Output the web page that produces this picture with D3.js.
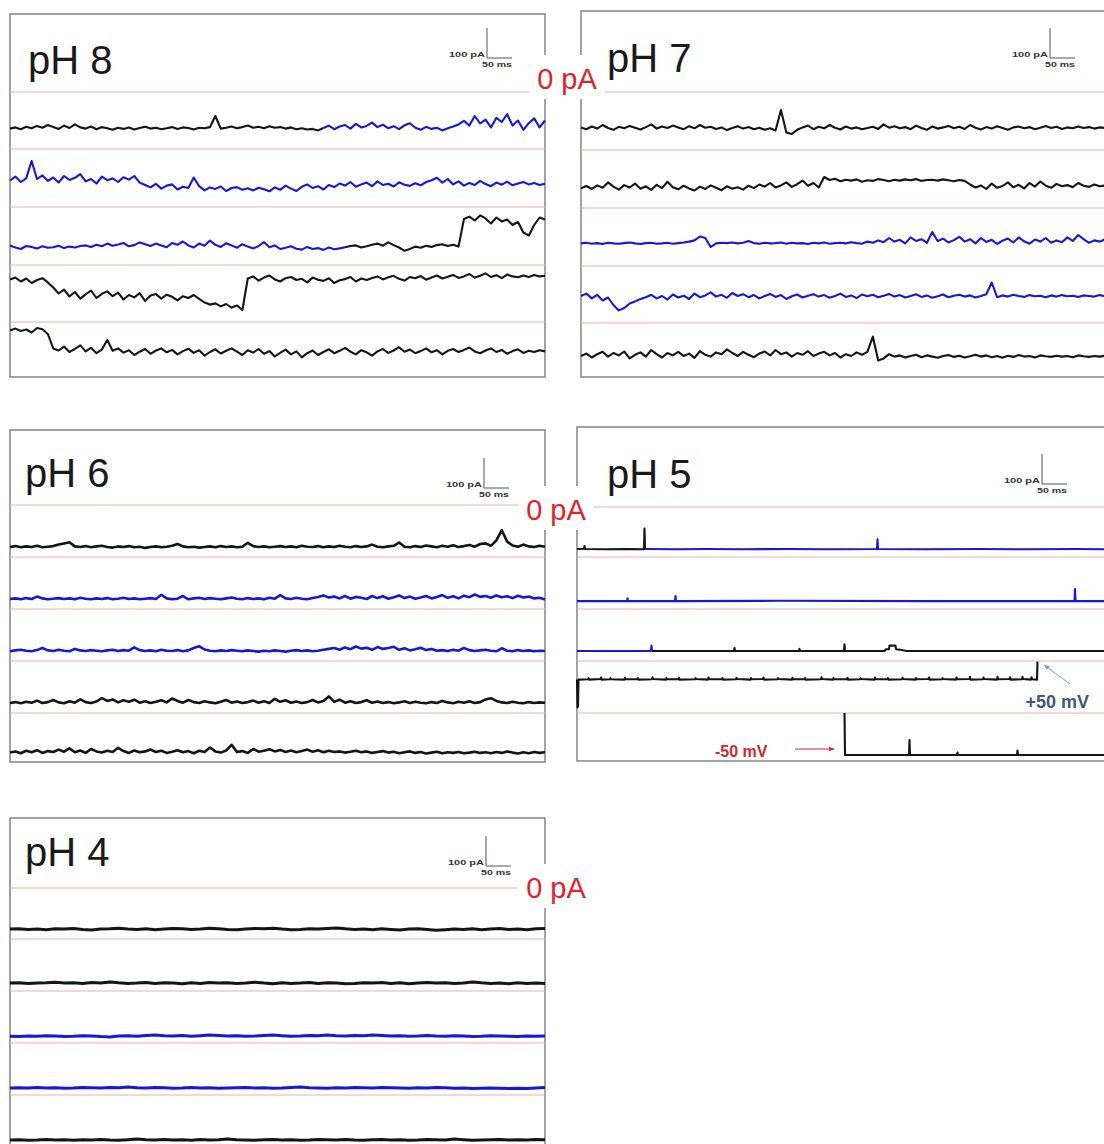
<!DOCTYPE html>
<html><head><meta charset="utf-8">
<script src="https://cdn.jsdelivr.net/npm/d3@7/dist/d3.min.js"></script>
<style>body{margin:0;background:#fff;} svg{display:block;font-family:"Liberation Sans",Arial,sans-serif;}</style>
</head><body>
<svg id="chart" width="1104" height="1144"></svg>
<script>
// ---------------- DATA (current in pA, time in ms) ----------------
const panelTitles = ["pH 8", "pH 7", "pH 6", "pH 5", "pH 4"];
const zeroLabel = "0 pA";
const scaleBarLabels = ["100 pA", "50 ms"];
const scaleBarValues = [100, 50];
const sweepDuration = 1070;

// pH 8 sweeps (evenly sampled)
const ph8_1 = [-122,-118,-124,-116,-121,-113,-119,-110,-117,-123,-112,-120,-108,-118,-122,-115,-124,-117,-121,-126,-119,-123,-118,-125,-120,-116,-122,-119,-124,-121,-117,-123,-118,-120,-125,-119,-121,-117,-80,-122,-119,-115,-121,-117,-112,-119,-116,-121,-114,-119,-117,-122,-118,-124,-121,-125,-123,-128,-120,-112,-124,-115,-110,-122,-106,-118,-113,-102,-117,-109,-121,-114,-124,-111,-104,-119,-126,-116,-123,-119,-128,-121,-115,-108,-96,-112,-80,-105,-92,-118,-86,-100,-74,-112,-95,-126,-104,-88,-118,-95];
const ph8_2 = [-105,-92,-110,-98,-40,-100,-88,-106,-95,-112,-90,-103,-96,-84,-108,-100,-115,-92,-104,-98,-110,-94,-102,-90,-112,-120,-128,-116,-132,-122,-118,-135,-126,-130,-95,-124,-138,-128,-133,-125,-140,-130,-127,-136,-131,-138,-129,-134,-141,-128,-136,-122,-132,-140,-126,-118,-130,-124,-135,-120,-127,-115,-122,-110,-126,-118,-112,-124,-108,-120,-116,-125,-111,-119,-123,-114,-121,-110,-104,-96,-112,-100,-118,-108,-122,-113,-120,-106,-117,-124,-112,-119,-109,-121,-115,-110,-118,-113,-120,-116];
const ph8_3 = [-128,-135,-140,-130,-133,-138,-131,-136,-134,-129,-137,-132,-135,-130,-128,-133,-126,-131,-122,-129,-125,-120,-131,-127,-118,-124,-130,-122,-128,-134,-120,-126,-115,-128,-135,-122,-129,-112,-126,-133,-121,-128,-136,-124,-132,-138,-130,-117,-134,-128,-140,-136,-131,-139,-142,-133,-140,-137,-143,-135,-141,-138,-134,-130,-128,-135,-131,-126,-122,-129,-118,-127,-135,-146,-140,-132,-136,-129,-133,-127,-124,-130,-126,-132,-40,-32,-45,-28,-38,-55,-35,-48,-42,-60,-50,-85,-95,-60,-35,-42];
const ph8_4 = [-48,-42,-55,-45,-60,-50,-44,-58,-75,-95,-82,-105,-90,-112,-98,-85,-110,-96,-88,-104,-92,-115,-100,-108,-94,-120,-102,-97,-112,-99,-106,-118,-104,-110,-100,-113,-125,-132,-128,-138,-130,-142,-135,-150,-45,-38,-52,-42,-35,-48,-55,-44,-40,-50,-46,-58,-42,-49,-53,-44,-60,-51,-47,-40,-55,-45,-50,-43,-38,-48,-41,-36,-46,-52,-40,-44,-37,-49,-42,-35,-45,-39,-33,-43,-38,-30,-42,-36,-28,-40,-34,-44,-32,-38,-41,-35,-40,-33,-38,-36];
const ph8_5 = [-28,-22,-30,-25,-35,-20,-24,-40,-88,-95,-82,-100,-90,-78,-98,-86,-104,-92,-60,-96,-88,-102,-94,-110,-99,-90,-106,-95,-88,-101,-93,-108,-97,-89,-103,-94,-112,-100,-91,-105,-96,-88,-99,-110,-94,-102,-90,-106,-97,-115,-103,-92,-108,-98,-118,-104,-95,-110,-100,-91,-104,-96,-86,-99,-108,-94,-101,-112,-98,-90,-103,-95,-84,-99,-92,-104,-97,-88,-101,-94,-108,-96,-90,-100,-93,-85,-98,-104,-95,-88,-100,-93,-106,-97,-91,-103,-96,-100,-94,-98];
const ph8Colors = [[["k",0],["b",620]], [["b",0]], [["b",0],["k",670]], [["k",0]], [["k",0]]];

// pH 7 sweeps
const ph7_1 = [-118,-124,-115,-122,-110,-120,-126,-116,-121,-113,-119,-125,-117,-108,-122,-115,-120,-112,-118,-124,-114,-121,-110,-119,-116,-123,-118,-127,-120,-114,-122,-117,-124,-119,-126,-121,-128,-60,-135,-140,-126,-118,-112,-124,-116,-121,-110,-119,-125,-115,-122,-118,-124,-120,-116,-123,-108,-119,-114,-121,-117,-124,-112,-120,-126,-115,-122,-118,-113,-121,-116,-123,-110,-119,-125,-117,-122,-114,-120,-126,-118,-115,-121,-117,-124,-119,-113,-120,-116,-123,-118,-121,-115,-120,-117,-122,-118,-120,-116,-121];
const ph7_2 = [-128,-120,-130,-118,-126,-108,-122,-132,-117,-125,-112,-129,-121,-133,-116,-127,-106,-124,-131,-119,-128,-135,-122,-130,-118,-126,-134,-121,-129,-124,-132,-119,-127,-115,-122,-110,-125,-118,-108,-123,-114,-102,-119,-110,-125,-90,-100,-96,-104,-99,-102,-98,-106,-101,-103,-97,-100,-104,-99,-102,-98,-101,-97,-103,-100,-99,-102,-98,-101,-104,-100,-103,-115,-125,-118,-130,-112,-126,-120,-108,-124,-116,-128,-110,-122,-105,-119,-126,-113,-121,-117,-124,-110,-119,-123,-115,-121,-118,-124,-120];
const ph7_3 = [-118,-116,-119,-117,-120,-116,-118,-119,-117,-115,-118,-120,-117,-116,-119,-118,-116,-119,-117,-115,-112,-108,-95,-100,-130,-118,-116,-117,-115,-118,-116,-110,-117,-119,-116,-118,-117,-115,-119,-116,-118,-117,-120,-116,-118,-115,-119,-117,-116,-118,-114,-117,-119,-112,-116,-108,-114,-100,-112,-106,-118,-98,-110,-104,-116,-80,-110,-102,-115,-107,-96,-112,-104,-118,-100,-113,-106,-120,-109,-102,-115,-98,-111,-119,-105,-112,-100,-116,-108,-114,-98,-110,-90,-104,-116,-108,-112,-104,-118,-110];
const ph7_4 = [-100,-92,-108,-96,-115,-105,-130,-148,-140,-125,-118,-110,-104,-96,-108,-100,-112,-95,-105,-99,-110,-92,-104,-98,-88,-102,-96,-106,-90,-100,-94,-104,-97,-108,-100,-93,-103,-97,-110,-101,-95,-105,-99,-94,-102,-97,-106,-100,-92,-103,-98,-107,-95,-101,-96,-104,-99,-93,-102,-97,-105,-100,-94,-103,-98,-106,-101,-95,-104,-99,-96,-102,-98,-105,-100,-94,-55,-104,-98,-102,-96,-100,-103,-97,-101,-99,-104,-98,-102,-97,-101,-99,-103,-98,-100,-102,-97,-101,-99,-100];
const ph7_5 = [-110,-102,-115,-104,-96,-112,-100,-108,-95,-118,-106,-98,-112,-90,-104,-115,-100,-108,-96,-110,-102,-116,-94,-106,-112,-98,-104,-88,-100,-110,-96,-106,-114,-102,-95,-108,-90,-104,-98,-112,-100,-106,-94,-110,-102,-96,-108,-100,-115,-104,-110,-98,-106,-96,-45,-125,-118,-104,-112,-108,-115,-110,-106,-114,-108,-112,-116,-110,-107,-113,-109,-115,-111,-106,-112,-108,-114,-110,-116,-109,-113,-107,-112,-110,-115,-108,-111,-113,-109,-112,-110,-114,-108,-111,-113,-110,-112,-109,-111,-110];
const ph7Colors = [[["k",0]], [["k",0]], [["b",0]], [["b",0]], [["k",0]]];

// pH 6 sweeps
const ph6_1 = [-140,-137,-141,-138,-140,-136,-141,-139,-137,-132,-128,-124,-138,-140,-137,-141,-138,-136,-140,-142,-138,-140,-137,-141,-139,-143,-140,-138,-141,-139,-136,-130,-138,-141,-139,-142,-140,-138,-141,-137,-140,-138,-141,-139,-126,-137,-140,-138,-141,-139,-137,-140,-138,-141,-136,-139,-140,-137,-141,-138,-140,-136,-139,-141,-137,-140,-138,-132,-139,-141,-138,-136,-125,-139,-141,-137,-140,-135,-138,-141,-136,-139,-134,-140,-137,-133,-139,-130,-128,-136,-118,-84,-122,-135,-139,-132,-138,-140,-136,-139];
const ph6_2 = [-140,-138,-141,-137,-140,-132,-138,-141,-139,-137,-140,-138,-141,-136,-139,-141,-138,-140,-137,-141,-139,-136,-140,-138,-141,-139,-137,-140,-126,-138,-141,-139,-130,-141,-138,-136,-140,-137,-139,-141,-138,-135,-139,-141,-137,-140,-138,-141,-136,-139,-127,-138,-140,-136,-139,-141,-137,-133,-128,-135,-132,-138,-130,-139,-133,-136,-140,-130,-137,-131,-139,-134,-128,-137,-132,-139,-135,-130,-138,-133,-127,-136,-131,-138,-129,-134,-125,-133,-130,-136,-128,-134,-131,-137,-129,-135,-132,-138,-136,-142];
const ph6_3 = [-141,-138,-136,-139,-141,-137,-130,-138,-140,-136,-139,-141,-133,-138,-140,-137,-139,-141,-138,-136,-140,-137,-139,-128,-137,-140,-138,-141,-136,-139,-140,-137,-141,-138,-130,-124,-135,-139,-141,-138,-140,-137,-139,-141,-138,-140,-142,-139,-141,-138,-140,-142,-139,-137,-140,-138,-141,-139,-136,-133,-130,-136,-128,-134,-125,-132,-129,-136,-127,-133,-130,-126,-136,-131,-138,-134,-129,-137,-133,-139,-137,-140,-136,-139,-130,-137,-140,-138,-136,-139,-141,-131,-139,-141,-137,-140,-138,-141,-139,-140];
const ph6_4 = [-140,-137,-141,-136,-139,-132,-140,-137,-130,-138,-141,-134,-139,-128,-137,-140,-135,-124,-133,-128,-138,-131,-136,-129,-139,-134,-140,-136,-131,-138,-125,-133,-139,-130,-137,-140,-134,-138,-141,-136,-130,-139,-135,-140,-137,-132,-139,-134,-140,-126,-136,-131,-139,-135,-140,-137,-130,-138,-133,-118,-136,-129,-139,-134,-140,-137,-131,-139,-135,-140,-137,-141,-138,-134,-140,-136,-139,-141,-137,-140,-133,-138,-141,-136,-139,-134,-140,-137,-128,-124,-133,-138,-140,-136,-139,-141,-137,-140,-138,-139];
const ph6_5 = [-132,-128,-134,-126,-131,-124,-133,-127,-130,-122,-129,-118,-131,-125,-133,-120,-128,-132,-126,-130,-116,-127,-133,-125,-131,-128,-122,-130,-126,-133,-129,-124,-131,-127,-134,-126,-130,-115,-128,-132,-125,-106,-130,-127,-133,-120,-129,-126,-121,-128,-123,-130,-125,-131,-127,-122,-129,-124,-131,-126,-130,-128,-132,-129,-126,-131,-128,-133,-130,-127,-132,-129,-134,-131,-128,-133,-130,-135,-132,-129,-134,-131,-133,-130,-134,-132,-129,-133,-131,-134,-130,-133,-128,-132,-135,-131,-134,-130,-133,-131];
const ph6Colors = [[["k",0]], [["b",0]], [["b",0]], [["k",0]], [["k",0]]];

// pH 5 sweeps ([ms, pA] samples)
const ph5_1 = [[0,-140],[14,-139],[15,-130],[16,-140],[60,-141],[100,-140],[134,-141],[135,-72],[136,-140],[200,-141],[260,-140],[330,-141],[420,-140],[500,-141],[600,-140],[601,-108],[602,-140],[700,-141],[800,-140],[900,-141],[1000,-140],[1070,-141]];
const ph5_2 = [[0,-147],[100,-147],[101,-138],[102,-147],[196,-147],[197,-130],[198,-147],[400,-146],[700,-147],[995,-147],[996,-107],[997,-147],[1070,-147]];
const ph5_3 = [[0,-140],[148,-140],[149,-122],[150,-140],[314,-140],[315,-130],[316,-140],[444,-140],[445,-133],[446,-140],[534,-140],[535,-118],[536,-140],[615,-140],[618,-134],[624,-134],[625,-122],[637,-122],[638,-134],[646,-136],[660,-140],[800,-140],[1070,-140]];
const ph5_4 = [[0,-62],[1,-155],[2,-150],[3,-62],[22,-61],[23,-57],[24,-62],[47,-60],[48,-55],[49,-62],[66,-61],[67,-57],[68,-61],[95,-62],[96,-56],[97,-61],[121,-60],[122,-57],[123,-62],[150,-61],[151,-54],[152,-60],[178,-62],[179,-57],[180,-61],[203,-60],[204,-56],[205,-62],[236,-61],[237,-57],[238,-60],[262,-62],[263,-55],[264,-61],[290,-60],[291,-57],[292,-62],[318,-61],[319,-56],[320,-60],[347,-62],[348,-57],[349,-61],[372,-60],[373,-55],[374,-62],[401,-61],[402,-57],[403,-60],[430,-62],[431,-56],[432,-61],[455,-60],[456,-57],[457,-62],[488,-61],[489,-54],[490,-60],[512,-62],[513,-57],[514,-61],[540,-60],[541,-56],[542,-62],[566,-61],[567,-57],[568,-60],[595,-62],[596,-55],[597,-61],[621,-60],[622,-57],[623,-62],[650,-61],[651,-56],[652,-60],[677,-62],[678,-57],[679,-61],[703,-60],[704,-55],[705,-62],[730,-61],[731,-57],[732,-60],[758,-62],[759,-55],[760,-61],[785,-60],[786,-53],[787,-62],[812,-61],[813,-55],[814,-60],[840,-62],[841,-53],[842,-61],[865,-60],[866,-54],[867,-62],[890,-61],[891,-53],[892,-60],[908,-62],[909,-54],[910,-61],[920,-62],[921,-2]];
const ph5_5 = [[535,0],[536,-140],[600,-140],[664,-140],[665,-90],[666,-140],[760,-140],[761,-132],[762,-140],[880,-140],[881,-125],[882,-140],[1000,-140],[1070,-140]];
const ph5Colors = [[["k",0],["b",136]], [["b",0]], [["b",0],["k",150]], [["k",0]], [["k",0]]];
const ph5Notes = ["+50 mV", "-50 mV"];

// pH 4 sweeps
const ph4_1 = [-137,-136,-138,-137,-139,-136,-137,-135,-138,-140,-137,-136,-134,-137,-138,-136,-139,-137,-135,-136,-138,-137,-134,-136,-138,-139,-137,-135,-136,-134,-137,-139,-138,-136,-137,-135,-133,-136,-138,-137,-139,-136,-138,-140,-137,-136,-138,-141,-139,-137,-138,-136,-139,-137,-135,-138,-137,-139,-136,-135];
const ph4_2 = [-147,-146,-148,-147,-146,-144,-147,-146,-148,-145,-147,-143,-146,-148,-147,-145,-148,-146,-147,-149,-146,-148,-145,-147,-146,-148,-147,-144,-147,-149,-146,-148,-147,-145,-148,-146,-147,-149,-148,-146,-147,-145,-148,-146,-149,-147,-145,-147,-146,-148,-147,-143,-146,-148,-147,-149,-146,-148,-147,-148];
const ph4_3 = [-151,-152,-150,-151,-149,-150,-152,-151,-149,-150,-152,-153,-150,-149,-151,-148,-147,-149,-150,-148,-151,-149,-147,-148,-150,-149,-151,-150,-148,-147,-149,-151,-150,-148,-149,-147,-149,-150,-148,-149,-147,-148,-150,-149,-151,-150,-148,-150,-151,-149,-150,-152,-151,-149,-150,-151,-152,-150,-151,-150];
const ph4_4 = [-150,-149,-150,-148,-150,-149,-151,-150,-148,-149,-150,-148,-149,-147,-149,-150,-148,-149,-151,-150,-148,-150,-149,-151,-150,-149,-148,-150,-149,-151,-150,-148,-147,-149,-150,-151,-149,-150,-148,-149,-150,-148,-149,-150,-151,-149,-150,-148,-149,-151,-150,-152,-151,-150,-151,-152,-151,-152,-150,-148];
const ph4_5 = [-150,-149,-151,-150,-148,-150,-149,-151,-149,-150,-148,-150,-151,-149,-147,-149,-150,-148,-150,-149,-151,-148,-150,-149,-147,-149,-150,-151,-149,-148,-150,-149,-151,-150,-148,-149,-150,-148,-150,-151,-149,-148,-150,-149,-151,-150,-148,-149,-150,-147,-149,-151,-150,-149,-148,-150,-149,-150,-148,-149];
const ph4Colors = [[["k",0]], [["k",0]], [["b",0]], [["b",0]], [["k",0]]];

// ---------------- LAYOUT ----------------
const colorMap = {k: "#141414", b: "#1717d6"};
const panels = [
  {title: panelTitles[0], x0: 10, y0: 14, x1: 545, y1: 377, zeros: [92,149,207,265,322], tx: 28, ty: 74, bx: 487, by: 58, sweeps: [ph8_1,ph8_2,ph8_3,ph8_4,ph8_5], colors: ph8Colors, sw: 2.1},
  {title: panelTitles[1], x0: 581, y0: 11, x1: 1116, y1: 377, zeros: [92,150,208,266,323], tx: 607, ty: 72, bx: 1050, by: 58, sweeps: [ph7_1,ph7_2,ph7_3,ph7_4,ph7_5], colors: ph7Colors, sw: 2.1},
  {title: panelTitles[2], x0: 10, y0: 430, x1: 545, y1: 762, zeros: [505,557,609,661,713], tx: 25, ty: 487, bx: 484, by: 488, sweeps: [ph6_1,ph6_2,ph6_3,ph6_4,ph6_5], colors: ph6Colors, sw: 2.6},
  {title: panelTitles[3], x0: 577, y0: 427, x1: 1112, y1: 761, zeros: [507,557,609,661,713], tx: 607, ty: 488, bx: 1042, by: 484, sweeps: [ph5_1,ph5_2,ph5_3,ph5_4,ph5_5], colors: ph5Colors, sw: 2.1},
  {title: panelTitles[4], x0: 10, y0: 818, x1: 545, y1: 1152, zeros: [888,939,991,1043,1095], tx: 25, ty: 866, bx: 486, by: 866, sweeps: [ph4_1,ph4_2,ph4_3,ph4_4,ph4_5], colors: ph4Colors, sw: 3}
];
const zeroLabelPos = [{x: 567, y: 89}, {x: 556, y: 520}, {x: 556, y: 898}];
const pxPerPA = 0.3;

const svg = d3.select("#chart");
svg.append("rect").attr("width",1104).attr("height",1144).attr("fill","#fff");

function toPoints(vals) {
  if (Array.isArray(vals[0])) return vals.map(d => ({t: d[0], v: d[1]}));
  const n = vals.length;
  return vals.map((v, i) => ({t: i / (n - 1) * sweepDuration, v}));
}
function splitByColor(points, segs) {
  return segs.map((s, k) => {
    const start = s[1];
    const end = k + 1 < segs.length ? segs[k + 1][1] : Infinity;
    const pts = points.filter(p => p.t >= start && p.t < end);
    const nxt = points.find(p => p.t >= end);
    if (nxt) pts.push(nxt);
    return {color: colorMap[s[0]], pts};
  });
}

panels.forEach(P => {
  const g = svg.append("g");
  const x = d3.scaleLinear().domain([0, sweepDuration]).range([P.x0, P.x1]);
  g.append("rect").attr("x", P.x0).attr("y", P.y0)
    .attr("width", P.x1 - P.x0).attr("height", P.y1 - P.y0)
    .attr("fill", "none").attr("stroke", "#8c8c8c").attr("stroke-width", 1.6);
  P.zeros.forEach(z => {
    g.append("line").attr("x1", P.x0).attr("x2", P.x1).attr("y1", z).attr("y2", z)
      .attr("stroke", "#eeb0b0").attr("stroke-width", 1.2);
  });
  P.sweeps.forEach((vals, r) => {
    const y = d3.scaleLinear().domain([0, 100]).range([P.zeros[r], P.zeros[r] - 100 * pxPerPA]);
    const line = d3.line().x(d => x(d.t)).y(d => y(d.v));
    splitByColor(toPoints(vals), P.colors[r]).forEach(seg => {
      g.append("path").attr("d", line(seg.pts)).attr("fill", "none")
        .attr("stroke", seg.color).attr("stroke-width", P.sw).attr("stroke-linejoin", "round");
    });
  });
  g.append("text").attr("x", P.tx).attr("y", P.ty).attr("font-size", 40).attr("fill", "#1a1a1a").text(P.title);
  const yb = d3.scaleLinear().domain([0, 100]).range([P.by, P.by - 100 * pxPerPA]);
  const xb = d3.scaleLinear().domain([0, sweepDuration]).range([0, P.x1 - P.x0]);
  const barW = xb(scaleBarValues[1]);
  g.append("line").attr("x1", P.bx).attr("x2", P.bx).attr("y1", yb(0)).attr("y2", yb(scaleBarValues[0]))
    .attr("stroke", "#555").attr("stroke-width", 1);
  g.append("line").attr("x1", P.bx).attr("x2", P.bx + barW).attr("y1", yb(0)).attr("y2", yb(0))
    .attr("stroke", "#555").attr("stroke-width", 1);
  g.append("text").attr("x", P.bx - 2).attr("y", P.by - 1).attr("text-anchor", "end")
    .attr("font-size", 8).attr("font-weight", "bold").attr("fill", "#333")
    .attr("textLength", 36).attr("lengthAdjust", "spacingAndGlyphs").text(scaleBarLabels[0]);
  g.append("text").attr("x", P.bx + barW).attr("y", P.by + 9).attr("text-anchor", "end")
    .attr("font-size", 8).attr("font-weight", "bold").attr("fill", "#333")
    .attr("textLength", 30).attr("lengthAdjust", "spacingAndGlyphs").text(scaleBarLabels[1]);
});

// pH 5 voltage annotations
const defs = svg.append("defs");
[["ahBlue", "#8b9bbb"], ["ahRed", "#d0282c"]].forEach(([id, c]) => {
  defs.append("marker").attr("id", id).attr("viewBox", "0 0 10 10").attr("refX", 9).attr("refY", 5)
    .attr("markerWidth", 6).attr("markerHeight", 6).attr("orient", "auto")
    .append("path").attr("d", "M0,1 L10,5 L0,9 Z").attr("fill", c);
});
svg.append("line").attr("x1", 1070).attr("y1", 684).attr("x2", 1044).attr("y2", 665)
  .attr("stroke", "#8b9bbb").attr("stroke-width", 1).attr("marker-end", "url(#ahBlue)");
svg.append("text").attr("x", 1089).attr("y", 708).attr("text-anchor", "end").attr("font-size", 18)
  .attr("font-weight", "bold").attr("fill", "#44567c").text(ph5Notes[0]);
svg.append("text").attr("x", 715).attr("y", 757).attr("font-size", 16)
  .attr("font-weight", "bold").attr("fill", "#d0282c").text(ph5Notes[1]);
svg.append("line").attr("x1", 795).attr("y1", 749).attr("x2", 834).attr("y2", 749)
  .attr("stroke", "#d0282c").attr("stroke-width", 1).attr("marker-end", "url(#ahRed)");

// 0 pA labels
zeroLabelPos.forEach(p => {
  svg.append("rect").attr("x", p.x - 38).attr("y", p.y - 34).attr("width", 76).attr("height", 44).attr("fill", "#fff");
  svg.append("text").attr("x", p.x).attr("y", p.y).attr("text-anchor", "middle")
    .attr("font-size", 29).attr("fill", "#e0232b").text(zeroLabel);
});
</script>
</body></html>
